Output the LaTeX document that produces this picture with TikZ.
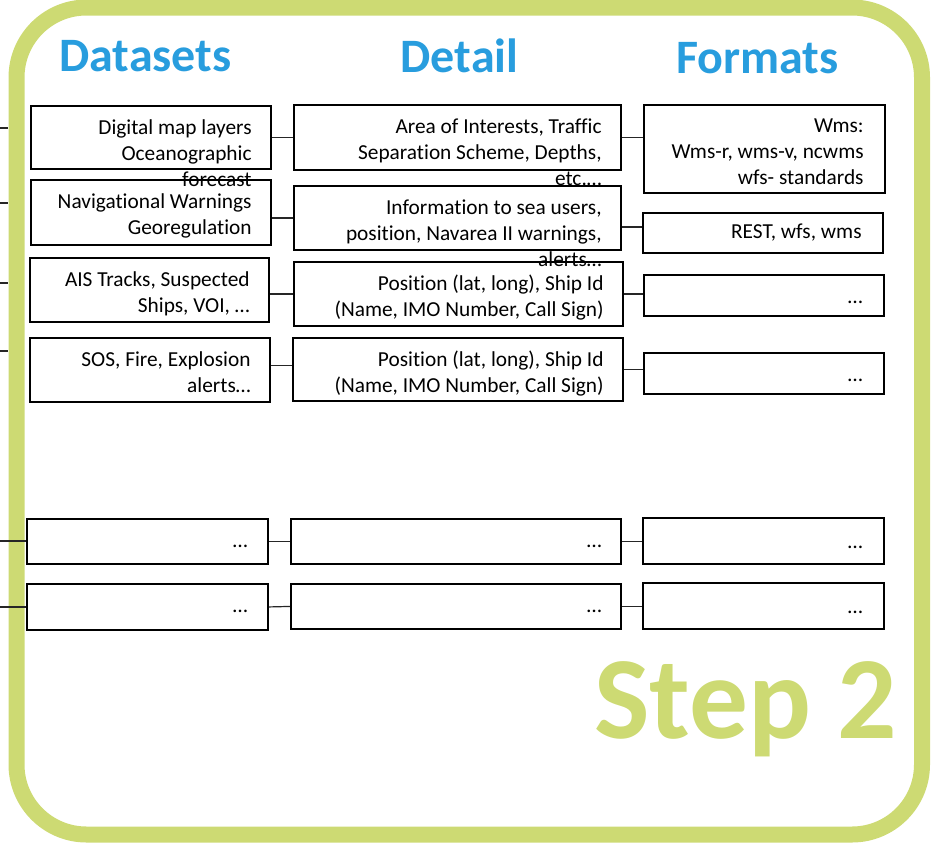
\documentclass[tikz,border=0pt]{standalone}
\usepackage{fontspec}
\setmainfont{Carlito}[Ligatures=NoCommon]
\definecolor{stepgreen}{RGB}{205,218,115}
\definecolor{headblue}{RGB}{40,157,222}
\newcommand{\px}{0.75pt}
\begin{document}
\begin{tikzpicture}[x=0.75pt, y=-0.75pt,
  box/.style={draw, line width=1.4pt, anchor=north west, inner sep=0pt},
  txt/.style={anchor=base east, align=right, inner sep=0pt, font=\fontsize{16}{19.5}\selectfont},
  head/.style={anchor=base, text=headblue, inner sep=0pt, font=\bfseries\fontsize{36}{40}\selectfont},
  link/.style={line width=0.9pt, black!85}]
\useasboundingbox (0,0) rectangle (935,843);
\draw[stepgreen, line width=16*\px, rounded corners=70*\px] (16.5,7.5) rectangle (922,834.5);
\node[head] (hds) at (145.5,71){Datasets};
\node[head] (hdt) at (459.5,72){Detail};
\node[head] (hfm) at (757.5,73){Formats};
\node[anchor=base west, text=stepgreen, inner sep=0pt, font=\bfseries\fontsize{88}{90}\selectfont] (step) at (594,738){Step 2};
\node[box, minimum width=240*\px, minimum height=63*\px] (ds1) at (30,105){};
\node[box, minimum width=240*\px, minimum height=65*\px] (ds2) at (30,179){};
\node[box, minimum width=239*\px, minimum height=64*\px] (ds3) at (29,257){};
\node[box, minimum width=240*\px, minimum height=64*\px] (ds4) at (29,337){};
\node[box, minimum width=241*\px, minimum height=45*\px] (ds5) at (26,518){};
\node[box, minimum width=241*\px, minimum height=46*\px] (ds6) at (26,583){};
\node[box, minimum width=327*\px, minimum height=65*\px] (dt1) at (293,104){};
\node[box, minimum width=327*\px, minimum height=64*\px] (dt2) at (293,185){};
\node[box, minimum width=329*\px, minimum height=64*\px] (dt3) at (293,261){};
\node[box, minimum width=330*\px, minimum height=63*\px] (dt4) at (292,337){};
\node[box, minimum width=330*\px, minimum height=45*\px] (dt5) at (290,518){};
\node[box, minimum width=330*\px, minimum height=45*\px] (dt6) at (290,583){};
\node[box, minimum width=241*\px, minimum height=88*\px] (fm1) at (643,104){};
\node[box, minimum width=240*\px, minimum height=40*\px] (fm2) at (642,212){};
\node[box, minimum width=240*\px, minimum height=41*\px] (fm3) at (643,274){};
\node[box, minimum width=240*\px, minimum height=41*\px] (fm4) at (643,352){};
\node[box, minimum width=241*\px, minimum height=46*\px] (fm5) at (642,517){};
\node[box, minimum width=241*\px, minimum height=46*\px] (fm6) at (642,582){};
\node[txt] (ds1t) at ([xshift=-20*\px, yshift=-81*\px]ds1.north east){Digital map layers\\Oceanographic\\forecast};
\node[txt] (ds2t) at ([xshift=-20*\px, yshift=-55*\px]ds2.north east){Navigational Warnings\\Georegulation};
\node[txt] (ds3t) at ([xshift=-20*\px, yshift=-55*\px]ds3.north east){AIS Tracks, Suspected\\Ships, VOI, …};
\node[txt] (ds4t) at ([xshift=-20*\px, yshift=-55*\px]ds4.north east){SOS, Fire, Explosion\\alerts…};
\node[txt] (ds5t) at ([xshift=-21*\px, yshift=-29*\px]ds5.north east){…};
\node[txt] (ds6t) at ([xshift=-21*\px, yshift=-29*\px]ds6.north east){…};
\node[txt] (dt1t) at ([xshift=-20*\px, yshift=-81*\px]dt1.north east){Area of Interests, Traffic\\Separation Scheme, Depths,\\etc.…};
\node[txt] (dt2t) at ([xshift=-20*\px, yshift=-81*\px]dt2.north east){Information to sea users,\\position, Navarea II warnings,\\alerts…};
\node[txt] (dt3t) at ([xshift=-20*\px, yshift=-55*\px]dt3.north east){Position (lat, long), Ship Id\\(Name, IMO Number, Call Sign)};
\node[txt] (dt4t) at ([xshift=-20*\px, yshift=-55*\px]dt4.north east){Position (lat, long), Ship Id\\(Name, IMO Number, Call Sign)};
\node[txt] (dt5t) at ([xshift=-20*\px, yshift=-29*\px]dt5.north east){…};
\node[txt] (dt6t) at ([xshift=-20*\px, yshift=-29*\px]dt6.north east){…};
\node[txt] (fm1t) at ([xshift=-22*\px, yshift=-80*\px]fm1.north east){Wms:\\Wms-r, wms-v, ncwms\\wfs- standards};
\node[txt] (fm2t) at ([xshift=-22*\px, yshift=-26*\px]fm2.north east){REST, wfs, wms};
\node[txt] (fm3t) at ([xshift=-22*\px, yshift=-29*\px]fm3.north east){…};
\node[txt] (fm4t) at ([xshift=-22*\px, yshift=-29*\px]fm4.north east){…};
\node[txt] (fm5t) at ([xshift=-22*\px, yshift=-31*\px]fm5.north east){…};
\node[txt] (fm6t) at ([xshift=-22*\px, yshift=-31*\px]fm6.north east){…};
\coordinate (in1) at (0,128);
\coordinate (in2) at (0,203);
\coordinate (in3) at (0,283);
\coordinate (in4) at (0,351);
\coordinate (in5) at (0,541);
\coordinate (in6) at (0,607);
\draw[link](in1) -- ++(8,0);
\draw[link](in2) -- ++(8,0);
\draw[link](in3) -- ++(8,0);
\draw[link](in4) -- ++(8,0);
\draw[link](in5) -- (in5 -| ds5.west);
\draw[link](in6) -- (in6 -| ds6.west);
\draw[link](ds1.east) -- (dt1.west);
\draw[link](dt2.west) -- (dt2.west -| ds2.east);
\draw[link](dt3.west) -- (dt3.west -| ds3.east);
\draw[link]([yshift=4*\px]dt4.west) -- ([yshift=4*\px]dt4.west -| ds4.east);
\draw[link](ds5.east) -- (dt5.west);
\draw[link](ds6.east) -- (dt6.west);
\draw[link](dt1.east) -- (dt1.east -| fm1.west);
\draw[link]([yshift=-9*\px]dt2.east) -- ([yshift=-9*\px]dt2.east -| fm2.west);
\draw[link](dt3.east) -- (dt3.east -| fm3.west);
\draw[link](dt4.east) -- (dt4.east -| fm4.west);
\draw[link](dt5.east) -- (dt5.east -| fm5.west);
\draw[link](dt6.east) -- (dt6.east -| fm6.west);
\end{tikzpicture}
\end{document}
